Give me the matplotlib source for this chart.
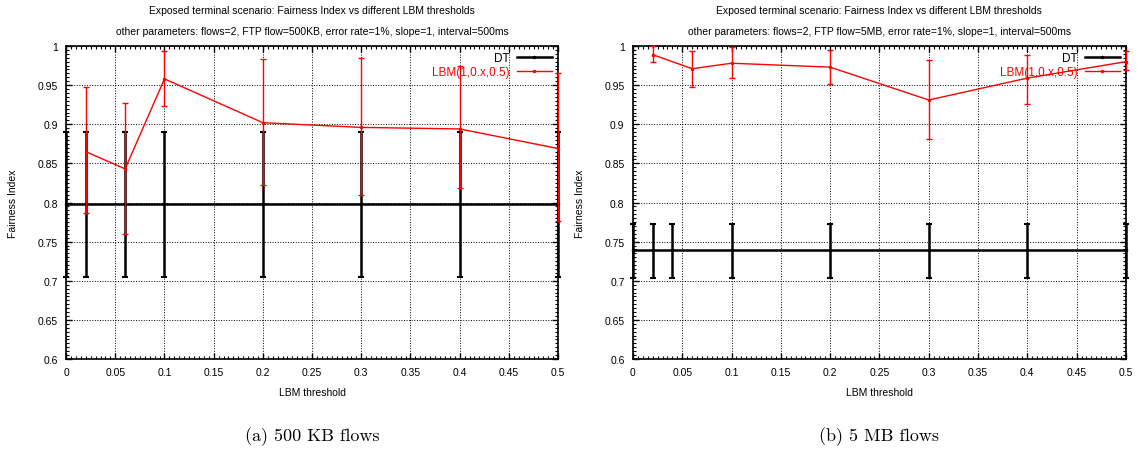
import matplotlib.pyplot as plt
from matplotlib.ticker import MultipleLocator, FormatStrFormatter

# left panel: 500 KB flows
dt_x_a = [0, 0.02, 0.06, 0.1, 0.2, 0.3, 0.4, 0.5]
dt_y_a = [0.798, 0.798, 0.798, 0.798, 0.798, 0.798, 0.798, 0.798]
dt_lo_a = [0.705, 0.705, 0.705, 0.705, 0.705, 0.705, 0.705, 0.705]
dt_hi_a = [0.890, 0.890, 0.890, 0.890, 0.890, 0.890, 0.890, 0.890]

lbm_x_a = [0.02, 0.06, 0.1, 0.2, 0.3, 0.4, 0.5]
lbm_y_a = [0.865, 0.843, 0.958, 0.902, 0.896, 0.894, 0.869]
lbm_lo_a = [0.786, 0.760, 0.923, 0.823, 0.809, 0.818, 0.776]
lbm_hi_a = [0.947, 0.927, 0.994, 0.983, 0.985, 0.974, 0.965]

# right panel: 5 MB flows
dt_x_b = [0, 0.02, 0.04, 0.1, 0.2, 0.3, 0.4, 0.5]
dt_y_b = [0.739, 0.739, 0.739, 0.739, 0.739, 0.739, 0.739, 0.739]
dt_lo_b = [0.703, 0.703, 0.703, 0.703, 0.703, 0.703, 0.703, 0.703]
dt_hi_b = [0.773, 0.773, 0.773, 0.773, 0.773, 0.773, 0.773, 0.773]

lbm_x_b = [0.02, 0.06, 0.1, 0.2, 0.3, 0.4, 0.5]
lbm_y_b = [0.989, 0.971, 0.978, 0.973, 0.931, 0.959, 0.980]
lbm_lo_b = [0.980, 0.947, 0.959, 0.951, 0.881, 0.926, 0.969]
lbm_hi_b = [1.000, 0.994, 0.999, 0.995, 0.982, 0.989, 0.994]

title1 = 'Exposed terminal scenario: Fairness Index vs different LBM thresholds'
subtitles = ['other parameters: flows=2, FTP flow=500KB, error rate=1%, slope=1, interval=500ms',
             'other parameters: flows=2, FTP flow=5MB, error rate=1%, slope=1, interval=500ms']
captions = ['(a) 500 KB flows', '(b) 5 MB flows']

plt.rcParams['font.family'] = ['Liberation Sans', 'DejaVu Sans']

fig = plt.figure(figsize=(11.39, 4.52), dpi=100)
ax_a = fig.add_axes([0.058, 0.2035, 0.432, 0.6925])
ax_b = fig.add_axes([0.5557, 0.2035, 0.4328, 0.6925])


def draw(ax, dx, dy, dlo, dhi, lx, ly, llo, lhi, subtitle, caption):
    derr = [[y - lo for y, lo in zip(dy, dlo)], [hi - y for y, hi in zip(dy, dhi)]]
    lerr = [[y - lo for y, lo in zip(ly, llo)], [hi - y for y, hi in zip(ly, lhi)]]
    ax.errorbar(dx, dy, yerr=derr, color='black', lw=1.8, elinewidth=1.8,
                capsize=2.5, capthick=1.5, fmt='none', clip_on=False, zorder=3)
    ax.plot(dx, dy, color='black', lw=1.8, marker='.', ms=3, label='DT', clip_on=False, zorder=3)
    ax.errorbar(lx, ly, yerr=lerr, color='red', elinewidth=1.0,
                capsize=2.5, capthick=1.0, fmt='none', clip_on=False, zorder=4)
    ax.plot(lx, ly, color='red', lw=1.0, marker='.', ms=3, label='LBM(1,0.x,0.5)',
            clip_on=False, zorder=4)
    ax.set_xlim(0, 0.5)
    ax.set_ylim(0.6, 1.0)
    ax.xaxis.set_major_locator(MultipleLocator(0.05))
    ax.xaxis.set_minor_locator(MultipleLocator(0.005))
    ax.yaxis.set_major_locator(MultipleLocator(0.05))
    ax.yaxis.set_minor_locator(MultipleLocator(0.005))
    ax.xaxis.set_major_formatter(FormatStrFormatter('%g'))
    ax.yaxis.set_major_formatter(FormatStrFormatter('%g'))
    ax.tick_params(which='both', direction='in', top=True, right=True, labelsize=7.5, pad=6)
    ax.tick_params(which='major', length=4, width=1)
    ax.tick_params(which='minor', length=2, width=0.8)
    ax.grid(True, which='major', linestyle=':', color='black', lw=0.7)
    for s in ax.spines.values():
        s.set_linewidth(1.2)
    ax.set_xlabel('LBM threshold', fontsize=7.5, labelpad=7)
    ax.set_ylabel('Fairness Index', fontsize=7.5, labelpad=14)
    ax.text(0.5, 1.105, title1, transform=ax.transAxes, ha='center', fontsize=7.5)
    ax.text(0.5, 1.037, subtitle, transform=ax.transAxes, ha='center', fontsize=7.5)
    ax.text(0.5, -0.245, caption, transform=ax.transAxes, ha='center', va='center',
            fontsize=13, family='cmr10')
    leg = ax.legend(loc='upper right', frameon=False, fontsize=8.5, markerfirst=False,
                    handlelength=3, borderaxespad=0.1, labelspacing=0.15, handletextpad=0.6)
    for txt, col in zip(leg.get_texts(), ['black', 'red']):
        txt.set_color(col)


draw(ax_a, dt_x_a, dt_y_a, dt_lo_a, dt_hi_a, lbm_x_a, lbm_y_a, lbm_lo_a, lbm_hi_a,
     subtitles[0], captions[0])
draw(ax_b, dt_x_b, dt_y_b, dt_lo_b, dt_hi_b, lbm_x_b, lbm_y_b, lbm_lo_b, lbm_hi_b,
     subtitles[1], captions[1])

fig.savefig('out.png', dpi=100)
